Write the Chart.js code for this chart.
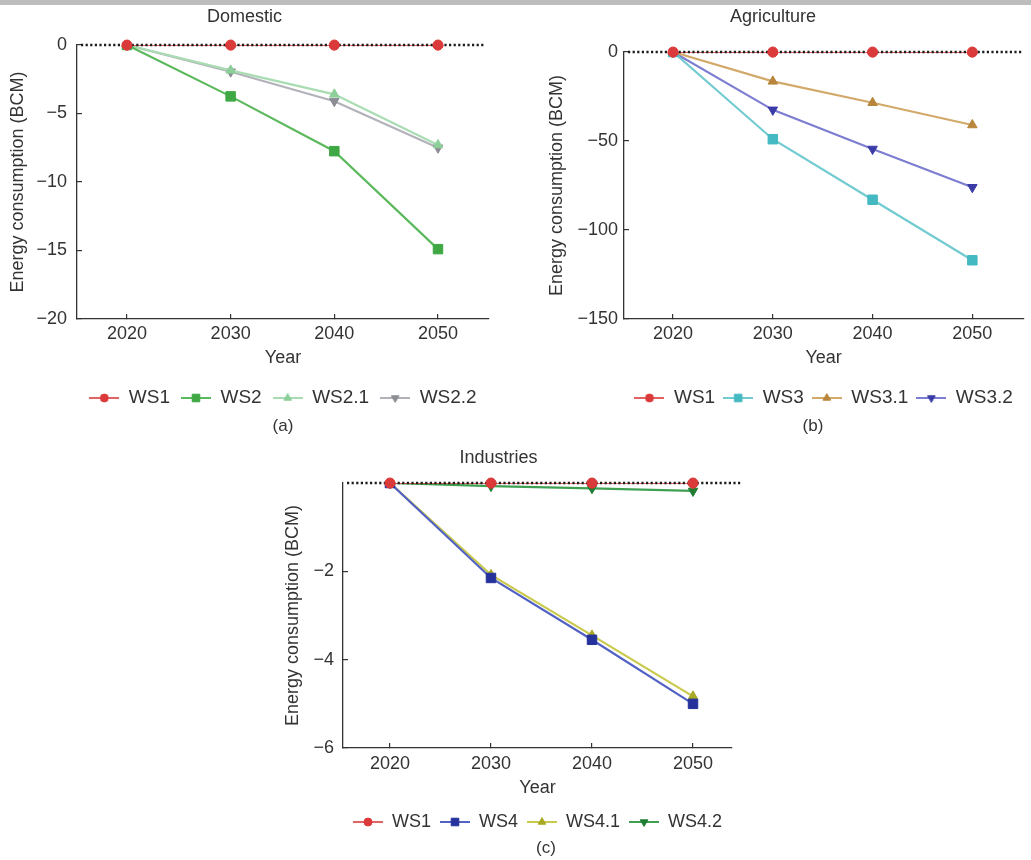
<!DOCTYPE html>
<html>
<head>
<meta charset="utf-8">
<script src="https://cdn.jsdelivr.net/npm/chart.js@4.4.1/dist/chart.umd.min.js"></script>
<style>
  body { margin: 0; width: 1031px; height: 860px; overflow: hidden; background: #fff; position: relative;
         font-family: "Liberation Sans", Arial, sans-serif; }
  #strip { position: absolute; left: 0; top: 0; width: 1031px; height: 5px; background: #bdbdbd; z-index: 5; }
  .panel { position: absolute; }
  .cap { position: absolute; font-size: 17px; color: #333; transform: translate(-50%, -50%); }
</style>
</head>
<body>
<div id="strip"></div>
<div class="panel" style="left:0;top:0"><canvas id="chartA" width="515" height="440"></canvas></div>
<div class="panel" style="left:515px;top:0"><canvas id="chartB" width="516" height="440"></canvas></div>
<div class="panel" style="left:265px;top:430px"><canvas id="chartC" width="500" height="430"></canvas></div>
<div class="cap" style="left:283px;top:426px">(a)</div>
<div class="cap" style="left:813px;top:426px">(b)</div>
<div class="cap" style="left:546px;top:848px">(c)</div>

<script>
const years = [2020, 2030, 2040, 2050];

// (a) Domestic
const domesticWS1 = [0, 0, 0, 0];
const domesticWS2 = [0, -3.75, -7.75, -14.9];
const domesticWS21 = [0, -1.85, -3.6, -7.3];
const domesticWS22 = [0, -1.95, -4.1, -7.5];
const domesticTicks = [0, -5, -10, -15, -20];

// (b) Agriculture
const agriWS1 = [0, 0, 0, 0];
const agriWS3 = [0, -49, -83, -117];
const agriWS31 = [0, -16.5, -28.5, -41];
const agriWS32 = [0, -32.5, -54.5, -76];
const agriTicks = [0, -50, -100, -150];

// (c) Industries
const indWS1 = [0, 0, 0, 0];
const indWS4 = [0, -2.15, -3.55, -5.0];
const indWS41 = [0, -2.08, -3.45, -4.83];
const indWS42 = [0, -0.07, -0.12, -0.18];
const indTicks = [-2, -4, -6];

const ink = '#333';
Chart.defaults.font.family = '"Liberation Sans", Arial, sans-serif';

const styles = {
  'WS1':   { line: 'rgba(225,70,70,0.85)', mark: '#db3a3a', shape: 'circle', r: 5, rot: 0 },
  'WS2':   { line: '#5cb85c', mark: '#3fa845', shape: 'rect', r: 6.7, rot: 0 },
  'WS2.1': { line: '#a9dcb2', mark: '#8ccf99', shape: 'triangle', r: 5.5, rot: 0 },
  'WS2.2': { line: '#b2b2ba', mark: '#8c8c95', shape: 'triangle', r: 5.5, rot: 180 },
  'WS3':   { line: '#72cbd0', mark: '#45b9c1', shape: 'rect', r: 6.7, rot: 0 },
  'WS3.1': { line: '#d3a96a', mark: '#b8863c', shape: 'triangle', r: 5.5, rot: 0 },
  'WS3.2': { line: '#7d7dd2', mark: '#3b3ba8', shape: 'triangle', r: 5.5, rot: 180 },
  'WS4':   { line: '#5262c4', mark: '#25329c', shape: 'rect', r: 6.7, rot: 0 },
  'WS4.1': { line: '#c9c94c', mark: '#a9a926', shape: 'triangle', r: 5.5, rot: 0 },
  'WS4.2': { line: '#40a052', mark: '#1f7c32', shape: 'triangle', r: 5.5, rot: 180 }
};

function makeIcon(s) {
  const c = document.createElement('canvas');
  c.width = 30; c.height = 14;
  const g = c.getContext('2d');
  g.strokeStyle = s.line; g.lineWidth = 2;
  g.beginPath(); g.moveTo(0, 7); g.lineTo(30, 7); g.stroke();
  g.fillStyle = s.mark; g.strokeStyle = s.mark; g.lineWidth = 1;
  Chart.helpers.drawPoint(g, { pointStyle: s.shape, radius: s.r * 0.8, rotation: s.rot, borderWidth: 1 }, 15, 7);
  return c;
}

function series(label, values) {
  const s = styles[label];
  return {
    label: label,
    data: years.map((yr, i) => ({ x: yr, y: values[i] })),
    borderColor: s.line,
    backgroundColor: s.mark,
    pointBackgroundColor: s.mark,
    pointBorderColor: s.mark,
    pointStyle: s.shape,
    pointRadius: s.r,
    pointRotation: s.rot,
    pointBorderWidth: 1,
    borderWidth: 2.2,
    legendIcon: makeIcon(s)
  };
}

// dotted zero line, drawn over the lines and under the WS1 markers
const zeroLine = {
  id: 'zeroLine',
  afterDatasetsDraw(chart, args, opts) {
    const { ctx, chartArea, scales } = chart;
    const y0 = scales.y.getPixelForValue(0);
    ctx.save();
    ctx.strokeStyle = '#1c1c1c';
    ctx.lineWidth = 2.4;
    ctx.setLineDash([2.2, 2.4]);
    ctx.beginPath();
    ctx.moveTo(chartArea.left + 4, y0);
    ctx.lineTo(chartArea.right + (opts.extend || 0), y0);
    ctx.stroke();
    ctx.restore();
    chart.getDatasetMeta(0).data.forEach(pt => pt.draw(ctx, chartArea));
  }
};

const minus = v => (v < 0 ? '\u2212' + Math.abs(v) : String(v));

function makeChart(id, c) {
  return new Chart(document.getElementById(id), {
    type: 'line',
    data: { datasets: c.datasets },
    options: {
      responsive: false,
      animation: false,
      devicePixelRatio: 1,
      layout: { padding: c.pad },
      plugins: {
        zeroLine: { extend: c.zeroExtend },
        title: {
          display: true, text: c.title, color: ink,
          font: { size: 18, weight: 'normal' },
          padding: c.titlePad
        },
        legend: {
          position: 'bottom',
          fullSize: false,
          labels: {
            usePointStyle: true,
            pointStyleWidth: 30,
            padding: c.legendPad,
            color: ink,
            font: { size: c.legendFont },
            generateLabels: chart => chart.data.datasets.map((ds, i) => ({
              text: ds.label, pointStyle: ds.legendIcon, datasetIndex: i,
              fontColor: ink, lineWidth: 0, hidden: false
            }))
          }
        },
        tooltip: { enabled: false }
      },
      scales: {
        x: {
          type: 'linear',
          min: c.xMin, max: c.xMax,
          afterBuildTicks: s => { s.ticks = years.map(v => ({ value: v })); },
          afterFit: s => { s.height = c.xHeight; },
          border: { display: true, color: ink, width: 1.3 },
          grid: { drawOnChartArea: false, drawTicks: true, tickLength: -5, color: ink, lineWidth: 1.2 },
          ticks: { color: ink, font: { size: 18 }, padding: c.xTickPad, maxRotation: 0, callback: v => String(v) },
          title: { display: true, text: 'Year', color: ink, font: { size: 18 }, padding: { top: 0, bottom: c.xTitlePad } }
        },
        y: {
          min: c.yMin, max: c.yMax,
          afterBuildTicks: s => { s.ticks = c.yTicks.slice().sort((a, b) => a - b).map(v => ({ value: v })); },
          afterFit: s => { s.width = c.yWidth; },
          border: { display: true, color: ink, width: 1.3 },
          grid: { drawOnChartArea: false, drawTicks: true, tickLength: -5, color: ink, lineWidth: 1.2 },
          ticks: { color: ink, font: { size: 18 }, padding: c.yTickPad, callback: minus },
          title: { display: true, text: 'Energy consumption (BCM)', color: ink, font: { size: 18 }, padding: { top: c.yTitlePad, bottom: 0 } }
        }
      }
    },
    plugins: [zeroLine]
  });
}

makeChart('chartA', {
  title: 'Domestic',
  datasets: [series('WS1', domesticWS1), series('WS2', domesticWS2), series('WS2.1', domesticWS21), series('WS2.2', domesticWS22)],
  pad: { top: 0, left: 0, right: 26, bottom: 22.5 },
  titlePad: { top: 6.2, bottom: 17.2 },
  legendPad: 11, legendFont: 19,
  zeroExtend: -4,
  xMin: 2015.18, xMax: 2054.92, xHeight: 58.5, xTickPad: 9.2, xTitlePad: 8.7,
  yMin: -20, yMax: 0, yTicks: domesticTicks, yWidth: 77, yTickPad: 15, yTitlePad: 7.2
});

makeChart('chartB', {
  title: 'Agriculture',
  datasets: [series('WS1', agriWS1), series('WS3', agriWS3), series('WS3.1', agriWS31), series('WS3.2', agriWS32)],
  pad: { top: 0, left: 0, right: 0, bottom: 22.5 },
  titlePad: { top: 6.2, bottom: 24.2 },
  legendPad: 8, legendFont: 19,
  zeroExtend: 0,
  xMin: 2015.08, xMax: 2055.11, xHeight: 61.5, xTickPad: 9.2, xTitlePad: 11.7,
  yMin: -150, yMax: 0, yTicks: agriTicks, yWidth: 109, yTickPad: 11, yTitlePad: 31.2
});

makeChart('chartC', {
  title: 'Industries',
  datasets: [series('WS1', indWS1), series('WS4', indWS4), series('WS4.1', indWS41), series('WS4.2', indWS42)],
  pad: { top: 0, left: 0, right: 33, bottom: 19 },
  titlePad: { top: 17.2, bottom: 14.2 },
  legendPad: 9, legendFont: 18,
  zeroExtend: 10,
  xMin: 2015.35, xMax: 2053.86, xHeight: 56, xTickPad: 10.2, xTitlePad: 5.2,
  yMin: -6, yMax: 0, yTicks: indTicks, yWidth: 78, yTickPad: 14, yTitlePad: 17.2
});
</script>
</body>
</html>
